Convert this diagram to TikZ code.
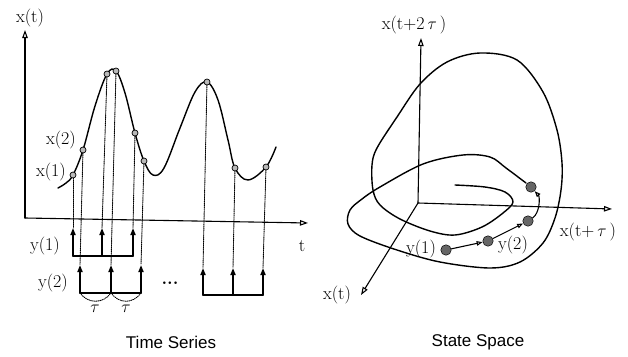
\documentclass[tikz,border=0pt]{standalone}
\usepackage{fontspec}
\newfontfamily\capfont{Liberation Sans}
\usetikzlibrary{arrows.meta, calc, positioning}
\tikzset{
  lbl/.style={font=\fontsize{18}{21}\selectfont, inner sep=0pt},
  captxt/.style={font=\capfont\fontsize{17}{20}\selectfont, inner sep=0pt},
  axisarrow/.style={-{Triangle[open, length=8pt, width=5.5pt]}, line width=1.1pt},
  curve/.style={line width=1.4pt},
  proj/.style={densely dotted, line width=0.9pt},
  yvec/.style={-{Triangle[open, length=7pt, width=5pt]}, line width=1.6pt},
  ybar/.style={line width=1.6pt},
  tspt/.style={circle, draw, fill=gray!55, inner sep=0pt, minimum size=6pt, line width=0.7pt},
  sspt/.style={circle, draw, fill=black!60, inner sep=0pt, minimum size=10.5pt, line width=0.5pt},
  trajarrow/.style={-{Triangle[open, length=6pt, width=4.5pt]}, line width=1.1pt}
}
\begin{document}
\begin{tikzpicture}[x=1pt, y=-1pt, line cap=round, line join=round]
  \useasboundingbox (0,0) rectangle (628,356);
  % tidsserie: akser
  \coordinate (o1) at (25,218);
  \coordinate (xtop) at (25,30);
  \coordinate (tend) at (308,223);
  \draw[axisarrow] (o1) -- (xtop);
  \draw[axisarrow] (o1) -- (tend);
  \node[lbl] (lxt) at (30,18) {x(t)};
  \node[lbl] (lt) at (302,246) {t};
  % kurve
  \draw[curve] plot[smooth, tension=0.6] coordinates {(58,188) (66,183) (73,175) (83,150) (95,106)
    (107,74) (116,71) (125,93) (135,133) (144,161) (153,175) (164,168) (180,128) (195,92)
    (207,82) (218,100) (228,140) (235,168) (248,180) (266,167) (276,147)};
  % punkter
  \foreach \i/\a/\b in {1/73/175, 2/83/150, 3/107/74, 4/116/71, 5/135/133, 6/144/161,
    7/207/82, 8/235/168, 9/266/167}
    \node[tspt] (p\i) at (\a,\b) {};
  \node[lbl] (lx1) at (51,172) {x(1)};
  \node[lbl] (lx2) at (61,140) {x(2)};
  % y-vektorer
  \foreach \k/\xa/\yb/\yt in {1/73/256/228, 3/102/256/228, 5/133/256/228,
    2/80/293/265, 4/111/293/265, 6/141/293/265,
    7/203/295/268, 8/233/295/268, 9/263/295/268} {
    \coordinate (b\k) at (\xa,\yb);
    \coordinate (a\k) at (\xa,\yt);
    \draw[proj] (p\k) -- (a\k);
    \draw[yvec] (b\k) -- (a\k);
  }
  \draw[ybar] (b1) -- (b5);
  \draw[ybar] (b2) -- (b6);
  \draw[ybar] (b7) -- (b9);
  \node[lbl] (ly1) at (45,246) {y(1)};
  \node[lbl] (ly2) at (53,283) {y(2)};
  \node[lbl] (ldots) at (170,283) {\textbf{...}};
  % tau
  \draw[proj] (b2) .. controls +(8,11) and +(-8,11) .. (b4);
  \draw[proj] (b4) .. controls +(8,11) and +(-8,11) .. (b6);
  \node[lbl] (tau1) at (95,309) {$\tau$};
  \node[lbl] (tau2) at (126,309) {$\tau$};
  \node[captxt] (ts) at (171,342) {Time Series};

  % tilstandsrum: akser
  \coordinate (o2) at (418,203);
  \coordinate (z3) at (421,38);
  \coordinate (z2) at (612,209);
  \coordinate (z1) at (361,295);
  \draw[axisarrow] (o2) -- (z3);
  \draw[axisarrow] (o2) -- (z2);
  \draw[axisarrow] (o2) -- (z1);
  \node[lbl] (lz3) at (414,25) {x(t+2\,$\tau$\,)};
  \node[lbl] (lz2) at (588,232) {x(t+\,$\tau$\,)};
  \node[lbl] (lz1) at (337,295) {x(t)};
  % bane
  \draw[curve] plot[smooth, tension=0.55] coordinates {(455,185) (485,187) (505,192) (513,202)
    (503,213) (482,227) (455,235) (430,231) (400,219) (380,205) (373,190) (372,165) (377,148)
    (397,117) (420,84) (447,62) (480,53) (517,60) (543,92) (557,130) (562,163) (561,190)
    (555,218) (543,243) (520,262) (490,268) (440,262) (397,250) (360,236) (348,224) (350,210)
    (362,199) (380,187) (423,164) (463,155) (490,157) (506,168) (526,183)};
  % indlejrede punkter
  \node[sspt] (d1) at (446,250) {};
  \node[sspt] (d2) at (488,241) {};
  \node[sspt] (d3) at (528,221) {};
  \node[sspt] (d4) at (531,187) {};
  \draw[trajarrow] (d1) -- (d2);
  \draw[trajarrow] (d2) -- (d3);
  \draw[trajarrow] (d3) .. controls +(12,-8) and +(9,10) .. (d4);
  \node[lbl] (ld1) at (421,249) {y(1)};
  \node[lbl] (ld2) at (513,245) {y(2)};
  \node[captxt] (ss) at (478,342) {State Space};
\end{tikzpicture}
\end{document}
